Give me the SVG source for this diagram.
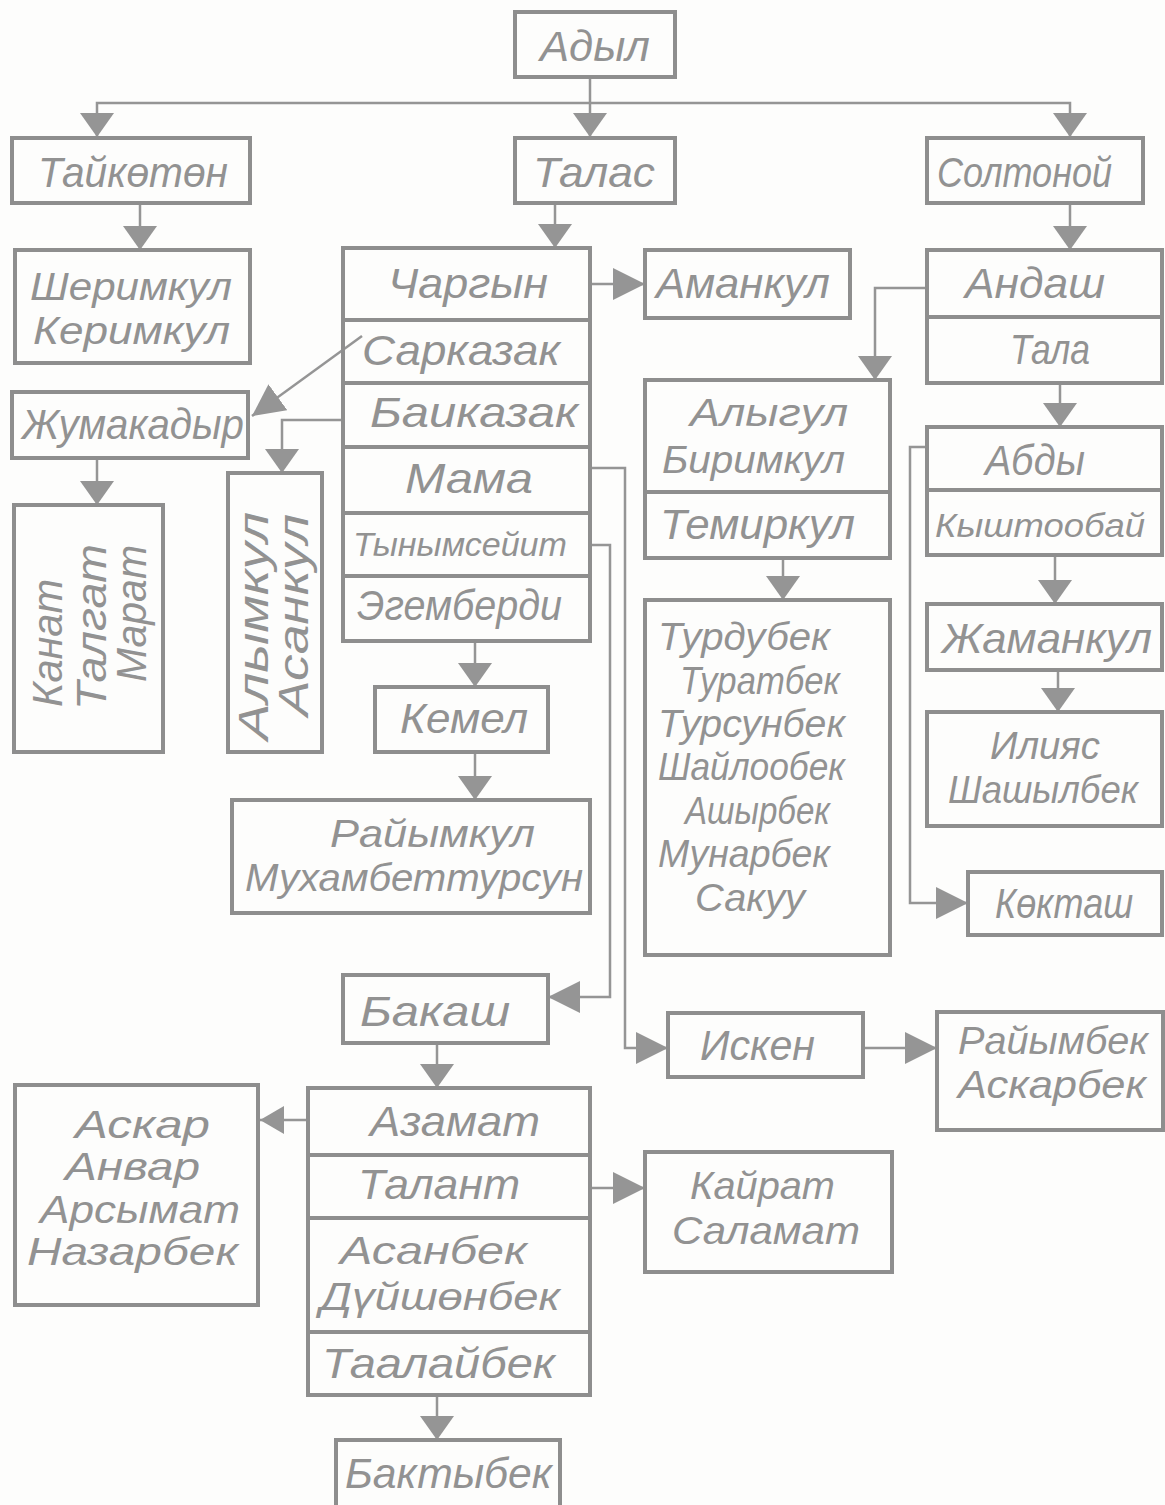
<svg xmlns="http://www.w3.org/2000/svg" width="1165" height="1505" viewBox="0 0 1165 1505">
<style>
.b{fill:none;stroke:#8e8e8e;stroke-width:4}
.t{font-family:"Liberation Sans","DejaVu Sans",sans-serif;font-style:italic;font-size:42px;fill:#929292}
.m{font-size:38px}
.s{font-size:34px}
.c{fill:none;stroke:#959595;stroke-width:2.5}
</style>
<defs>
<marker id="av" markerUnits="userSpaceOnUse" viewBox="0 0 24 34" refX="24" refY="17" markerWidth="24" markerHeight="34" orient="auto"><path d="M0,0 L24,17 L0,34 Z" fill="#959595"/></marker>
<marker id="ah" markerUnits="userSpaceOnUse" viewBox="0 0 32 32" refX="32" refY="16" markerWidth="32" markerHeight="32" orient="auto"><path d="M0,0 L32,16 L0,32 Z" fill="#959595"/></marker>
<marker id="as" markerUnits="userSpaceOnUse" viewBox="0 0 24 28" refX="24" refY="14" markerWidth="24" markerHeight="28" orient="auto"><path d="M0,0 L24,14 L0,28 Z" fill="#959595"/></marker>
</defs>
<rect width="1165" height="1505" fill="#fdfdfc"/>
<g id="connectors">
<path class="c" d="M590,77 V137" marker-end="url(#av)"/>
<path class="c" d="M590,103 H97 V137" marker-end="url(#av)"/>
<path class="c" d="M590,103 H1070 V137" marker-end="url(#av)"/>
<path class="c" d="M140,203 V250" marker-end="url(#av)"/>
<path class="c" d="M555,203 V248" marker-end="url(#av)"/>
<path class="c" d="M1070,203 V250" marker-end="url(#av)"/>
<path class="c" d="M590,284 H645" marker-end="url(#ah)"/>
<path class="c" d="M927,288 H875 V380" marker-end="url(#av)"/>
<path class="c" d="M1060,383 V427" marker-end="url(#av)"/>
<path class="c" d="M927,447 H910 V903 H968" marker-end="url(#ah)"/>
<path class="c" d="M1055,555 V604" marker-end="url(#av)"/>
<path class="c" d="M1058,670 V712" marker-end="url(#av)"/>
<path class="c" d="M783,558 V600" marker-end="url(#av)"/>
<path class="c" d="M362,336 L252,416" marker-end="url(#ah)"/>
<path class="c" d="M343,420 H282 V473" marker-end="url(#av)"/>
<path class="c" d="M97,458 V505" marker-end="url(#av)"/>
<path class="c" d="M475,641 V687" marker-end="url(#av)"/>
<path class="c" d="M475,752 V800" marker-end="url(#av)"/>
<path class="c" d="M590,468 H625 V1048 H668" marker-end="url(#ah)"/>
<path class="c" d="M590,545 H610 V997 H548" marker-end="url(#ah)"/>
<path class="c" d="M863,1048 H937" marker-end="url(#ah)"/>
<path class="c" d="M437,1043 V1088" marker-end="url(#av)"/>
<path class="c" d="M308,1120 H260" marker-end="url(#as)"/>
<path class="c" d="M590,1188 H645" marker-end="url(#ah)"/>
<path class="c" d="M437,1395 V1440" marker-end="url(#av)"/>
</g>
<g id="adyl"><rect class="b" x="515" y="12" width="160" height="65"/><text class="t" x="540" y="61" textLength="110" lengthAdjust="spacingAndGlyphs">Адыл</text></g>
<g id="taiketen"><rect class="b" x="12" y="138" width="238" height="65"/><text class="t" x="38" y="187" textLength="190" lengthAdjust="spacingAndGlyphs">Тайкөтөн</text></g>
<g id="talas"><rect class="b" x="515" y="138" width="160" height="65"/><text class="t" x="533" y="187" textLength="122" lengthAdjust="spacingAndGlyphs">Талас</text></g>
<g id="soltonoi"><rect class="b" x="927" y="138" width="216" height="65"/><text class="t" x="937" y="187" textLength="175" lengthAdjust="spacingAndGlyphs">Солтоной</text></g>
<g id="sherimkul"><rect class="b" x="15" y="250" width="235" height="113"/><text class="t m" x="30" y="300" textLength="202" lengthAdjust="spacingAndGlyphs">Шеримкул</text><text class="t m" x="33" y="344" textLength="197" lengthAdjust="spacingAndGlyphs">Керимкул</text></g>
<g id="chargyn"><rect class="b" x="343" y="248" width="247" height="72"/><text class="t" x="388" y="298" textLength="160" lengthAdjust="spacingAndGlyphs">Чаргын</text></g>
<g id="sarkazak"><rect class="b" x="343" y="320" width="247" height="63"/><text class="t" x="362" y="365" textLength="198" lengthAdjust="spacingAndGlyphs">Сарказак</text></g>
<g id="baikazak"><rect class="b" x="343" y="383" width="247" height="64"/><text class="t" x="370" y="427" textLength="208" lengthAdjust="spacingAndGlyphs">Баиказак</text></g>
<g id="mama"><rect class="b" x="343" y="447" width="247" height="66"/><text class="t" x="405" y="493" textLength="128" lengthAdjust="spacingAndGlyphs">Мама</text></g>
<g id="tynymseiit"><rect class="b" x="343" y="513" width="247" height="63"/><text class="t s" x="353" y="556" textLength="214" lengthAdjust="spacingAndGlyphs">Тынымсейит</text></g>
<g id="egemberdi"><rect class="b" x="343" y="576" width="247" height="65"/><text class="t" x="357" y="620" textLength="205" lengthAdjust="spacingAndGlyphs">Эгемберди</text></g>
<g id="amankul"><rect class="b" x="645" y="250" width="205" height="68"/><text class="t" x="656" y="298" textLength="174" lengthAdjust="spacingAndGlyphs">Аманкул</text></g>
<g id="andash"><rect class="b" x="927" y="250" width="235" height="67"/><text class="t" x="965" y="298" textLength="140" lengthAdjust="spacingAndGlyphs">Андаш</text></g>
<g id="tala"><rect class="b" x="927" y="317" width="235" height="66"/><text class="t" x="1010" y="364" textLength="80" lengthAdjust="spacingAndGlyphs">Тала</text></g>
<g id="zhumakadyr"><rect class="b" x="12" y="392" width="236" height="66"/><text class="t" x="22" y="439" textLength="222" lengthAdjust="spacingAndGlyphs">Жумакадыр</text></g>
<g id="kanat"><rect class="b" x="14" y="505" width="149" height="247"/><text class="t" transform="translate(62,707) rotate(-90)" textLength="128" lengthAdjust="spacingAndGlyphs">Канат</text><text class="t" transform="translate(106,710) rotate(-90)" textLength="166" lengthAdjust="spacingAndGlyphs">Талгат</text><text class="t" transform="translate(146,682) rotate(-90)" textLength="137" lengthAdjust="spacingAndGlyphs">Марат</text></g>
<g id="alymkul"><rect class="b" x="228" y="473" width="94" height="279"/><text class="t" transform="translate(268,740) rotate(-90)" textLength="228" lengthAdjust="spacingAndGlyphs">Алымкул</text><text class="t" transform="translate(308,716) rotate(-90)" textLength="202" lengthAdjust="spacingAndGlyphs">Асанкул</text></g>
<g id="alygul"><rect class="b" x="645" y="380" width="245" height="112"/><text class="t m" x="690" y="426" textLength="158" lengthAdjust="spacingAndGlyphs">Алыгул</text><text class="t m" x="662" y="473" textLength="183" lengthAdjust="spacingAndGlyphs">Биримкул</text></g>
<g id="temirkul"><rect class="b" x="645" y="492" width="245" height="66"/><text class="t" x="660" y="539" textLength="195" lengthAdjust="spacingAndGlyphs">Темиркул</text></g>
<g id="turdubek"><rect class="b" x="645" y="600" width="245" height="355"/>
<text class="t m" x="658" y="650" textLength="172" lengthAdjust="spacingAndGlyphs">Турдубек</text>
<text class="t m" x="680" y="694" textLength="160" lengthAdjust="spacingAndGlyphs">Туратбек</text>
<text class="t m" x="658" y="737" textLength="187" lengthAdjust="spacingAndGlyphs">Турсунбек</text>
<text class="t m" x="658" y="780" textLength="187" lengthAdjust="spacingAndGlyphs">Шайлообек</text>
<text class="t m" x="685" y="824" textLength="145" lengthAdjust="spacingAndGlyphs">Ашырбек</text>
<text class="t m" x="658" y="867" textLength="172" lengthAdjust="spacingAndGlyphs">Мунарбек</text>
<text class="t m" x="695" y="911" textLength="110" lengthAdjust="spacingAndGlyphs">Сакуу</text></g>
<g id="abdy"><rect class="b" x="927" y="427" width="235" height="63"/><text class="t" x="985" y="475" textLength="100" lengthAdjust="spacingAndGlyphs">Абды</text></g>
<g id="kyshtoobai"><rect class="b" x="927" y="490" width="235" height="65"/><text class="t s" x="935" y="537" textLength="210" lengthAdjust="spacingAndGlyphs">Кыштообай</text></g>
<g id="zhamankul"><rect class="b" x="927" y="604" width="235" height="66"/><text class="t" x="942" y="653" textLength="210" lengthAdjust="spacingAndGlyphs">Жаманкул</text></g>
<g id="iliyas"><rect class="b" x="927" y="712" width="235" height="114"/><text class="t m" x="990" y="759" textLength="110" lengthAdjust="spacingAndGlyphs">Илияс</text><text class="t m" x="948" y="803" textLength="190" lengthAdjust="spacingAndGlyphs">Шашылбек</text></g>
<g id="koktash"><rect class="b" x="968" y="872" width="194" height="63"/><text class="t" x="995" y="918" textLength="138" lengthAdjust="spacingAndGlyphs">Көкташ</text></g>
<g id="kemel"><rect class="b" x="375" y="687" width="173" height="65"/><text class="t" x="400" y="733" textLength="128" lengthAdjust="spacingAndGlyphs">Кемел</text></g>
<g id="raiymkul"><rect class="b" x="232" y="800" width="358" height="113"/><text class="t m" x="330" y="847" textLength="205" lengthAdjust="spacingAndGlyphs">Райымкул</text><text class="t m" x="245" y="891" textLength="338" lengthAdjust="spacingAndGlyphs">Мухамбеттурсун</text></g>
<g id="bakash"><rect class="b" x="343" y="975" width="205" height="68"/><text class="t" x="360" y="1026" textLength="150" lengthAdjust="spacingAndGlyphs">Бакаш</text></g>
<g id="isken"><rect class="b" x="668" y="1013" width="195" height="64"/><text class="t" x="700" y="1060" textLength="115" lengthAdjust="spacingAndGlyphs">Искен</text></g>
<g id="raiymbek"><rect class="b" x="937" y="1012" width="226" height="118"/><text class="t m" x="958" y="1054" textLength="190" lengthAdjust="spacingAndGlyphs">Райымбек</text><text class="t m" x="958" y="1098" textLength="188" lengthAdjust="spacingAndGlyphs">Аскарбек</text></g>
<g id="azamat"><rect class="b" x="308" y="1088" width="282" height="67"/><text class="t" x="370" y="1136" textLength="170" lengthAdjust="spacingAndGlyphs">Азамат</text></g>
<g id="talant"><rect class="b" x="308" y="1155" width="282" height="63"/><text class="t" x="358" y="1199" textLength="162" lengthAdjust="spacingAndGlyphs">Талант</text></g>
<g id="asanbek"><rect class="b" x="308" y="1218" width="282" height="114"/><text class="t m" x="340" y="1264" textLength="187" lengthAdjust="spacingAndGlyphs">Асанбек</text><text class="t m" x="320" y="1310" textLength="240" lengthAdjust="spacingAndGlyphs">Дүйшөнбек</text></g>
<g id="taalaibek"><rect class="b" x="308" y="1332" width="282" height="63"/><text class="t" x="322" y="1378" textLength="233" lengthAdjust="spacingAndGlyphs">Таалайбек</text></g>
<g id="askar"><rect class="b" x="15" y="1085" width="243" height="220"/><text class="t m" x="75" y="1138" textLength="135" lengthAdjust="spacingAndGlyphs">Аскар</text><text class="t m" x="65" y="1180" textLength="135" lengthAdjust="spacingAndGlyphs">Анвар</text><text class="t m" x="40" y="1223" textLength="200" lengthAdjust="spacingAndGlyphs">Арсымат</text><text class="t m" x="27" y="1265" textLength="211" lengthAdjust="spacingAndGlyphs">Назарбек</text></g>
<g id="kairat"><rect class="b" x="645" y="1152" width="247" height="120"/><text class="t m" x="690" y="1199" textLength="145" lengthAdjust="spacingAndGlyphs">Кайрат</text><text class="t m" x="672" y="1244" textLength="188" lengthAdjust="spacingAndGlyphs">Саламат</text></g>
<g id="baktybek"><rect class="b" x="336" y="1440" width="224" height="70"/><text class="t" x="345" y="1488" textLength="207" lengthAdjust="spacingAndGlyphs">Бактыбек</text></g>
</svg>
